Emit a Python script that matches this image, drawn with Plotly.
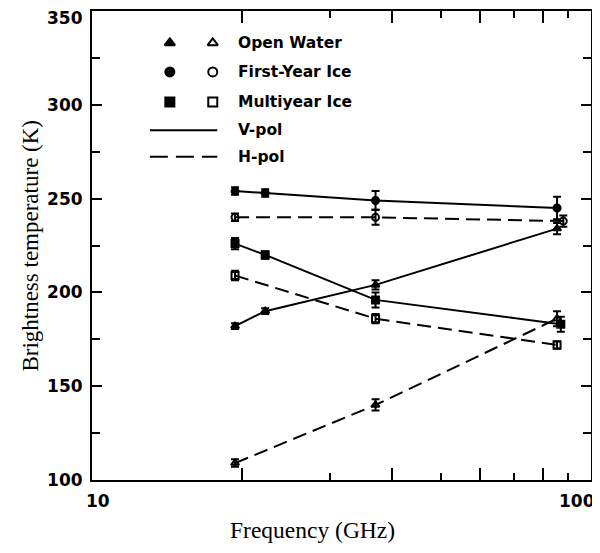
import plotly.graph_objects as go

# ---- data ----
freq4 = [19.35, 22.235, 37.0, 85.5]
freq3 = [19.35, 37.0, 85.5]

ow_v_freq = freq4
ow_v = [182, 190, 204, 234]
ow_v_err = [1.5, 1.5, 2.5, 3]

ow_h_freq = freq3
ow_h = [109, 140, 186]
ow_h_err = [2, 3, 4]

fyi_v_freq = freq4
fyi_v = [254, 253, 249, 245]
fyi_v_err = [2, 2, 5, 6]

fyi_h_freq = [19.35, 37.0, 88.0]
fyi_h = [240, 240, 238]
fyi_h_err = [2, 4, 3]

my_v_freq = [19.35, 22.235, 37.0, 87.0]
my_v = [226, 220, 196, 183]
my_v_err = [3, 2, 4, 4]

my_h_freq = freq3
my_h = [209, 186, 172]
my_h_err = [2.5, 2.5, 2]

legend_rows = ["Open Water", "First-Year Ice", "Multiyear Ice", "V-pol", "H-pol"]
y_ticks = [100, 150, 200, 250, 300, 350]
y_ticktext = ["100", "150", "200", "250", "300", ""]
y_top_label = "350"
x_ticks = [10, 20, 40, 60, 80, 100]
x_minor_ticks = [30, 50, 70, 90]
x_labels = [("10", 10), ("100", 100)]

BLACK = "black"
DASH = "14px,7px"

fig = go.Figure()

def add_series(x, y, err, symbol, dash):
    fig.add_trace(go.Scatter(
        x=x, y=y, mode="lines+markers",
        line=dict(color=BLACK, width=2, dash=dash),
        marker=dict(symbol=symbol, size=7, color=BLACK,
                    line=dict(color=BLACK, width=2)),
        error_y=dict(type="data", array=err, visible=True,
                     color=BLACK, thickness=2, width=4),
        showlegend=False, cliponaxis=False,
    ))

add_series(fyi_v_freq, fyi_v, fyi_v_err, "circle", "solid")
add_series(fyi_h_freq, fyi_h, fyi_h_err, "circle-open", DASH)
add_series(my_v_freq, my_v, my_v_err, "square", "solid")
add_series(my_h_freq, my_h, my_h_err, "square-open", DASH)
add_series(ow_v_freq, ow_v, ow_v_err, "triangle-up", "solid")
add_series(ow_h_freq, ow_h, ow_h_err, "triangle-up-open", DASH)

# ---- hand-drawn style legend on an overlay axis (0..1 paper-like) ----
leg_y = [0.932, 0.870, 0.806, 0.746, 0.689]
filled = ["triangle-up", "circle", "square"]
opened = ["triangle-up-open", "circle-open", "square-open"]
for i in range(3):
    fig.add_trace(go.Scatter(x=[0.156], y=[leg_y[i]], mode="markers", xaxis="x2", yaxis="y2",
                             marker=dict(symbol=filled[i], size=9, color=BLACK, line=dict(color=BLACK, width=2)),
                             showlegend=False, hoverinfo="skip"))
    fig.add_trace(go.Scatter(x=[0.242], y=[leg_y[i]], mode="markers", xaxis="x2", yaxis="y2",
                             marker=dict(symbol=opened[i], size=9, color=BLACK, line=dict(color=BLACK, width=2)),
                             showlegend=False, hoverinfo="skip"))
for i, d in zip([3, 4], ["solid", "18px,8px"]):
    fig.add_trace(go.Scatter(x=[0.116, 0.251], y=[leg_y[i], leg_y[i]], mode="lines", xaxis="x2", yaxis="y2",
                             line=dict(color=BLACK, width=2, dash=d),
                             showlegend=False, hoverinfo="skip"))
for i, t in enumerate(legend_rows):
    fig.add_annotation(x=0.289, y=leg_y[i], xref="paper", yref="paper", text=t,
                       showarrow=False, xanchor="left", yanchor="middle",
                       font=dict(family="DejaVu Sans", size=15.5, color=BLACK, weight="bold"))

tickfont = dict(family="DejaVu Sans", size=17, color=BLACK, weight="bold")

# x tick labels (offset as in the reference)
for (txt, val), shift in zip(x_labels, [6, -14]):
    fig.add_annotation(x=1 if val == 10 else 2, y=0, xref="x", yref="paper", text=txt,
                       showarrow=False, xanchor="center", yanchor="middle",
                       xshift=shift, yshift=-21, font=tickfont)

# top y label, nudged down so it stays inside the page
fig.add_annotation(x=0, y=350, xref="paper", yref="y", text=y_top_label,
                   showarrow=False, xanchor="right", yanchor="middle",
                   xshift=-7, yshift=-7, font=tickfont)

# axis titles
fig.add_annotation(x=0.441, y=-0.107, xref="paper", yref="paper", text="Frequency (GHz)",
                   showarrow=False, xanchor="center", yanchor="middle",
                   font=dict(family="Liberation Serif", size=23.5, color=BLACK))
fig.add_annotation(x=-0.124, y=0.50, xref="paper", yref="paper", text="Brightness temperature (K)",
                   showarrow=False, xanchor="center", yanchor="middle", textangle=-90,
                   font=dict(family="Liberation Serif", size=23, color=BLACK))

fig.update_layout(
    width=600, height=553,
    margin=dict(l=84, r=17, t=3, b=81),
    paper_bgcolor="white", plot_bgcolor="white",
    xaxis=dict(type="log", range=[1, 2], tickmode="array", tickvals=x_ticks, showticklabels=False,
               ticks="inside", ticklen=12, tickwidth=2, tickcolor=BLACK,
               minor=dict(tickvals=x_minor_ticks, ticks="inside", ticklen=7, tickwidth=2, tickcolor=BLACK),
               showline=True, linecolor=BLACK, linewidth=2, mirror="allticks", automargin=False,
               showgrid=False, zeroline=False),
    yaxis=dict(range=[100, 350], tickmode="array", tickvals=y_ticks, ticktext=y_ticktext,
               ticks="inside", ticklen=10, tickwidth=2, tickcolor=BLACK,
               minor=dict(dtick=25, ticks="inside", ticklen=8, tickwidth=2, tickcolor=BLACK),
               showline=True, linecolor=BLACK, linewidth=2, mirror="allticks", automargin=False,
               showgrid=False, zeroline=False, tickfont=tickfont, ticklabelstandoff=4),
    xaxis2=dict(overlaying="x", range=[0, 1], visible=False, fixedrange=True),
    yaxis2=dict(overlaying="y", range=[0, 1], visible=False, fixedrange=True),
)

fig.write_html("out.html")
